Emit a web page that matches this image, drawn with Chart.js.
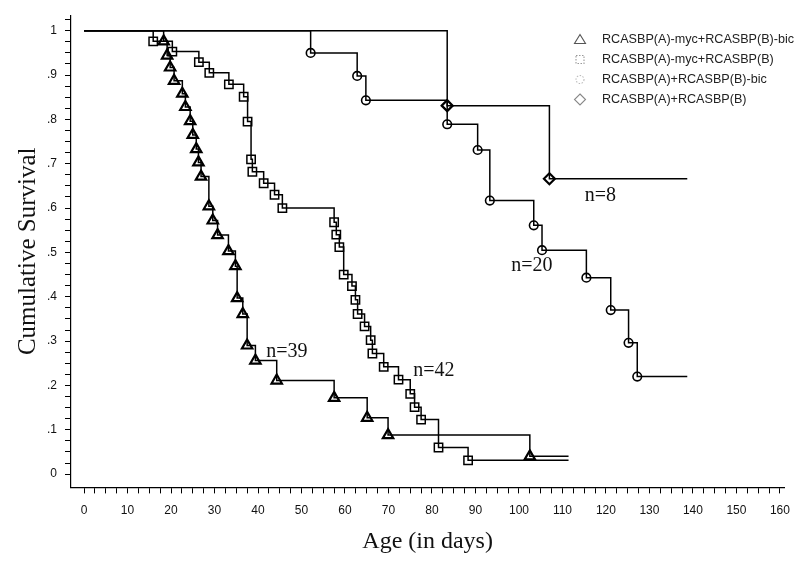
<!DOCTYPE html>
<html>
<head>
<meta charset="utf-8">
<script src="https://cdn.jsdelivr.net/npm/chart.js@4.4.0/dist/chart.umd.min.js"></script>
<style>
  html, body { margin: 0; padding: 0; background: #fff; }
  #wrap { width: 800px; height: 561px; }
</style>
</head>
<body>
<div id="wrap"><canvas id="survival-chart"></canvas></div>
<script>
// Kaplan-Meier curves: age in days vs cumulative survival
const seriesLabels = [
  'RCASBP(A)-myc+RCASBP(B)-bic',
  'RCASBP(A)-myc+RCASBP(B)',
  'RCASBP(A)+RCASBP(B)-bic',
  'RCASBP(A)+RCASBP(B)'
];

const triangleDays = [0, 18.3, 19.1, 19.8, 20.7, 22.6, 23.3, 24.4, 25.0, 25.8, 26.3, 26.9, 28.7, 29.6, 30.7, 33.2, 34.8, 35.2, 36.5, 37.5, 39.4, 44.3, 57.5, 65.1, 69.9, 102.5, 111.4];
const triangleSurv = [1, 0.976, 0.944, 0.917, 0.887, 0.858, 0.828, 0.796, 0.765, 0.733, 0.703, 0.671, 0.604, 0.572, 0.539, 0.503, 0.469, 0.397, 0.361, 0.290, 0.256, 0.211, 0.172, 0.127, 0.088, 0.040, 0.040];

const squareDays = [0, 15.9, 20.3, 26.4, 28.8, 33.3, 36.7, 37.6, 38.4, 38.7, 41.3, 43.8, 45.6, 57.5, 58.0, 58.7, 59.7, 61.6, 62.4, 62.9, 64.5, 65.9, 66.3, 68.9, 72.3, 75.0, 76.0, 77.5, 81.5, 88.3, 111.4];
const squareSurv = [1, 0.976, 0.953, 0.929, 0.905, 0.879, 0.851, 0.795, 0.710, 0.682, 0.656, 0.630, 0.600, 0.568, 0.540, 0.512, 0.450, 0.424, 0.393, 0.361, 0.333, 0.302, 0.272, 0.242, 0.213, 0.181, 0.151, 0.123, 0.060, 0.031, 0.031];

const circleDays = [0, 52.1, 62.8, 64.8, 83.5, 90.5, 93.3, 103.4, 105.3, 115.5, 121.1, 125.2, 127.2, 138.7];
const circleSurv = [1, 0.950, 0.898, 0.843, 0.789, 0.731, 0.617, 0.561, 0.505, 0.443, 0.370, 0.296, 0.220, 0.220];

const diamondDays = [0, 83.5, 107.0, 138.7];
const diamondSurv = [1, 0.831, 0.666, 0.666];

// group size labels next to the curves
const groupText = ['n=39', 'n=42', 'n=20', 'n=8'];
const groupDay = [41.9, 75.7, 98.2, 115.1];
const groupSurv = [0.263, 0.222, 0.458, 0.615];

const markerStyles = ['triangle', 'rect', 'circle', 'rectRot'];

function toPoints(days, surv) {
  return days.map((d, i) => ({ x: d, y: surv[i] }));
}

// no marker on the starting point and on the end of the last line
function markerSizes(days, size) {
  return days.map((d, i) => (i === 0 || i === days.length - 1) ? 0 : size);
}

function makeDataset(i, days, surv, size, width) {
  return {
    label: seriesLabels[i],
    data: toPoints(days, surv),
    stepped: true,
    borderColor: '#000',
    borderWidth: 1.5,
    pointStyle: markerStyles[i],
    pointRadius: markerSizes(days, size),
    pointBorderColor: '#000',
    pointBorderWidth: width,
    pointBackgroundColor: 'rgba(0,0,0,0)',
    fill: false
  };
}

const serif = '"Liberation Serif", "Times New Roman", serif';
const sans = '"Liberation Sans", Arial, sans-serif';

function drawLegendMark(ctx, style, x, y) {
  ctx.beginPath();
  if (style === 'triangle') {
    ctx.moveTo(x, y - 5); ctx.lineTo(x + 5.5, y + 4); ctx.lineTo(x - 5.5, y + 4); ctx.closePath();
  } else if (style === 'rect') {
    ctx.rect(x - 4, y - 4, 8, 8);
  } else if (style === 'circle') {
    ctx.arc(x, y, 4, 0, Math.PI * 2);
  } else {
    ctx.moveTo(x, y - 5.5); ctx.lineTo(x + 5.5, y); ctx.lineTo(x, y + 5.5); ctx.lineTo(x - 5.5, y); ctx.closePath();
  }
  ctx.stroke();
}

const legendColors = ['#555', '#999', '#bbb', '#888'];

const textPlugin = {
  id: 'survivalText',
  afterDraw(chart) {
    const ctx = chart.ctx;
    const xs = chart.scales.x;
    const ys = chart.scales.y;
    ctx.save();

    // n= labels
    ctx.fillStyle = '#111';
    ctx.font = '20px ' + serif;
    ctx.textAlign = 'left';
    ctx.textBaseline = 'alphabetic';
    groupText.forEach((t, i) => {
      ctx.fillText(t, xs.getPixelForValue(groupDay[i]), ys.getPixelForValue(groupSurv[i]));
    });

    // legend in the top right corner
    ctx.font = '12.6px ' + sans;
    ctx.textBaseline = 'middle';
    seriesLabels.forEach((label, i) => {
      const y = 39.5 + i * 20;
      ctx.strokeStyle = legendColors[i];
      ctx.lineWidth = 1.1;
      ctx.setLineDash(i === 1 || i === 2 ? [1.5, 1.5] : []);
      drawLegendMark(ctx, markerStyles[i], 580, y);
      ctx.setLineDash([]);
      ctx.fillStyle = '#222';
      ctx.fillText(label, 602, y);
    });
    ctx.restore();
  }
};

const ctx = document.getElementById('survival-chart').getContext('2d');

new Chart(ctx, {
  type: 'line',
  data: {
    datasets: [
      makeDataset(0, triangleDays, triangleSurv, 6, 2.2),
      makeDataset(1, squareDays, squareSurv, 5.9, 1.5),
      makeDataset(2, circleDays, circleSurv, 4.3, 1.6),
      makeDataset(3, diamondDays, diamondSurv, 5.5, 2.2)
    ]
  },
  options: {
    responsive: true,
    maintainAspectRatio: false,
    animation: false,
    layout: { padding: { top: 13, right: 12.4, bottom: 0, left: 0 } },
    plugins: {
      legend: { display: false },
      tooltip: { enabled: false }
    },
    scales: {
      x: {
        type: 'linear',
        min: -3,
        max: 161,
        afterFit(scale) { scale.height = 73.6; },
        afterBuildTicks(scale) {
          scale.ticks = scale.ticks.filter(t => t.value >= -1e-9 && t.value <= 160.001);
        },
        ticks: {
          stepSize: 2.5,
          includeBounds: false,
          autoSkip: false,
          maxRotation: 0,
          padding: 10,
          color: '#111',
          font: { family: sans, size: 12 },
          callback: (v) => (Math.round(v * 10) % 100 === 0 ? String(Math.round(v)) : '')
        },
        grid: { display: true, drawOnChartArea: false, drawTicks: true, tickLength: 6, color: '#000', lineWidth: 1 },
        border: { display: true, color: '#000', width: 1.2 },
        title: {
          display: true,
          text: 'Age (in days)',
          color: '#111',
          font: { family: serif, size: 24 },
          padding: { top: 0, bottom: 5 }
        }
      },
      y: {
        type: 'linear',
        min: -0.03,
        max: 1.035,
        afterFit(scale) { scale.width = 71; },
        afterBuildTicks(scale) {
          scale.ticks = scale.ticks.filter(t => t.value >= -1e-9 && t.value <= 1.0251);
        },
        ticks: {
          stepSize: 0.025,
          includeBounds: false,
          autoSkip: false,
          padding: 8,
          color: '#111',
          font: { family: sans, size: 12 },
          callback: (v) => {
            const m = Math.round(v * 1000);
            if (m % 100 !== 0) return '';
            if (m === 1000) return '1';
            if (m === 0) return '0';
            return '.' + (m / 100);
          }
        },
        grid: { display: true, drawOnChartArea: false, drawTicks: true, tickLength: 6, color: '#000', lineWidth: 1 },
        border: { display: true, color: '#000', width: 1.2 },
        title: {
          display: true,
          text: 'Cumulative Survival',
          color: '#111',
          font: { family: serif, size: 25 },
          padding: { top: 13, bottom: 0 }
        }
      }
    }
  },
  plugins: [textPlugin]
});
</script>
</body>
</html>
